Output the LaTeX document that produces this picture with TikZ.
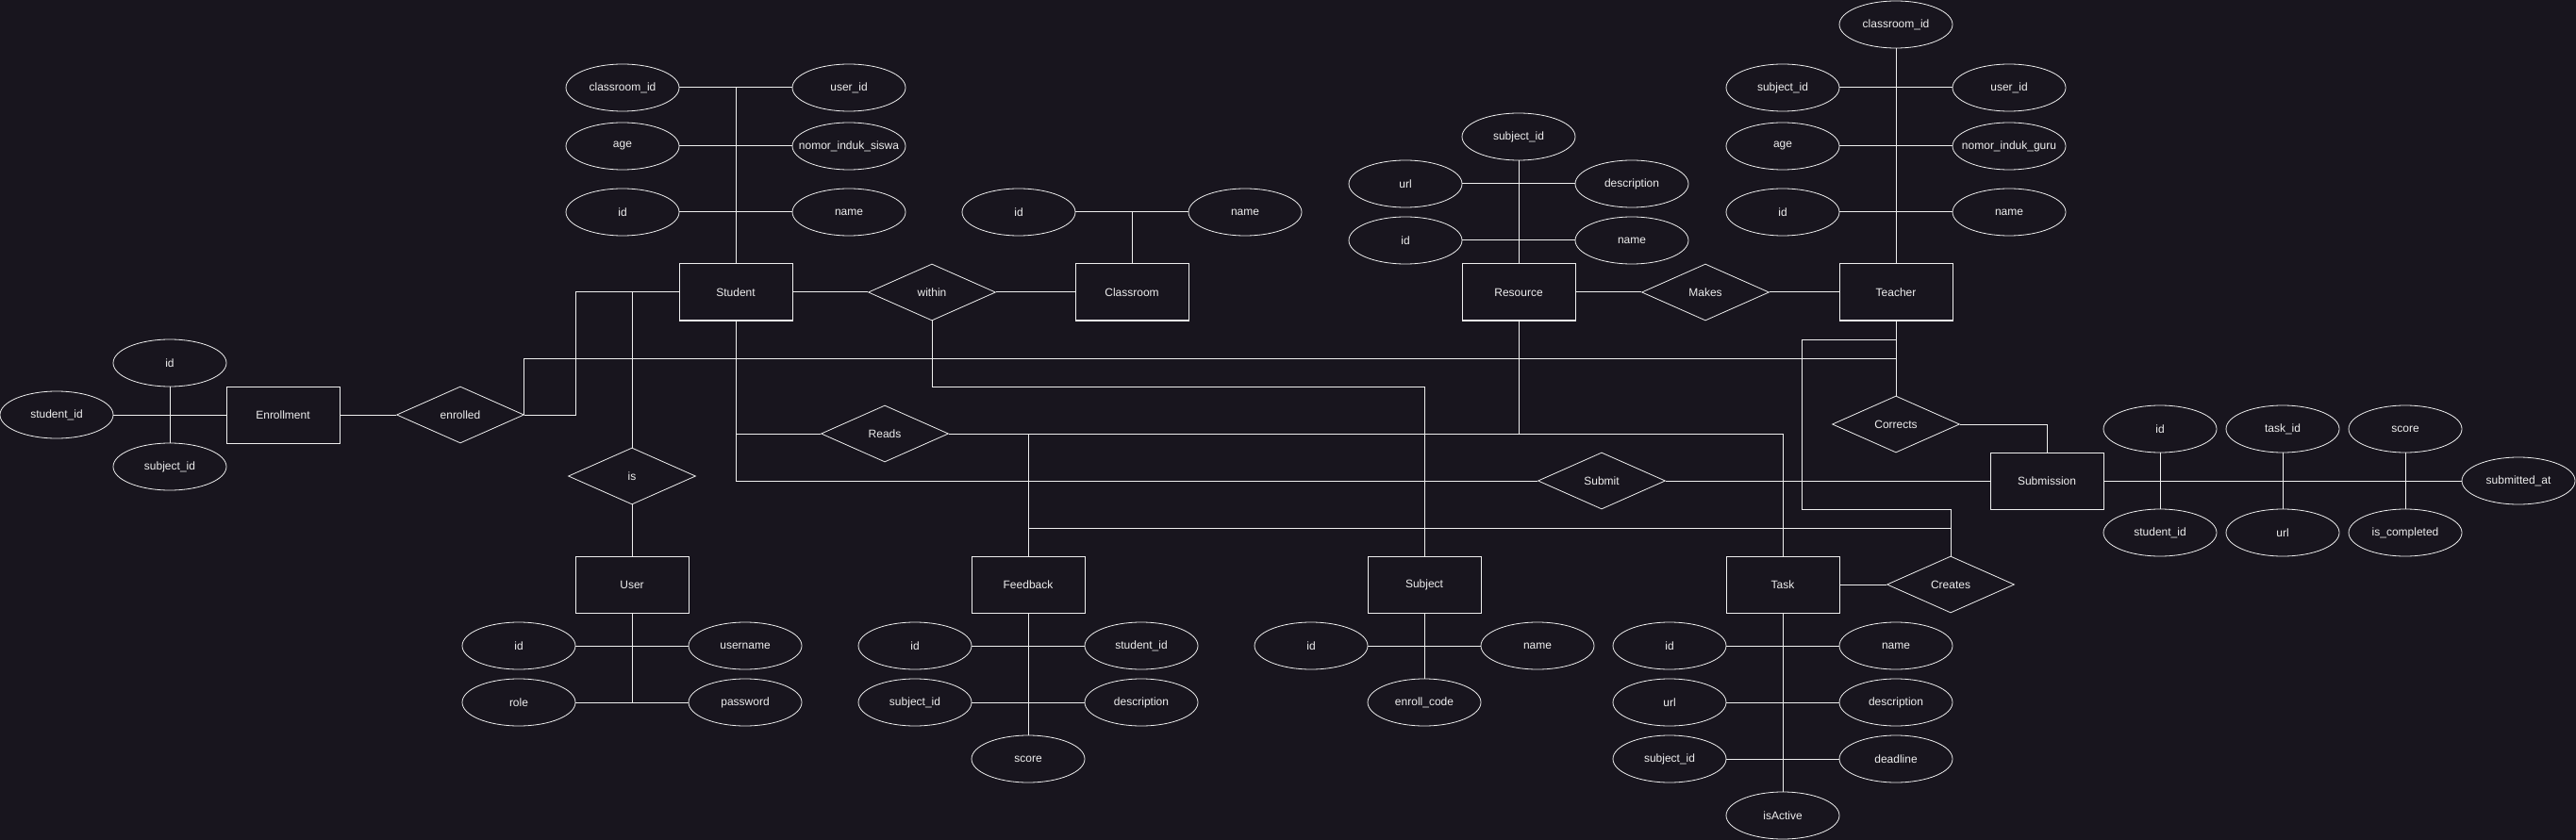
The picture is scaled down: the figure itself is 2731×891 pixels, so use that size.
\documentclass[tikz,border=0pt]{standalone}
\usepackage{fontspec}
\setmainfont{Liberation Sans}
\usetikzlibrary{shapes.geometric}
\definecolor{bg}{HTML}{18151E}
\definecolor{fg}{HTML}{EEEEEE}
\tikzstyle{entity} = [rectangle, minimum width = 90pt, minimum height = 45pt, text centered, draw = fg, fill = bg, text = fg, line width = 0.75pt]
\tikzstyle{attr} = [ellipse, minimum width = 90pt, minimum height = 37.5pt, inner sep = 0pt, text centered, draw = fg, fill = bg, text = fg, line width = 0.6pt]
\tikzstyle{rel} = [diamond, minimum width = 101.25pt, minimum height = 45pt, inner sep = 0pt, text centered, draw = fg, fill = bg, text = fg, line width = 0.6pt]
\tikzstyle{link} = [draw = fg, line width = 0.75pt]

\begin{document}
\begin{tikzpicture}[x = 0.75pt, y = -0.75pt, node distance = 180pt, font = \fontsize{9}{11}\selectfont]
    \useasboundingbox (0,0) rectangle (2731,891);
    \fill[bg] (0,0) rectangle (2731,891);

    % entities
    \node(enrollment)[entity] at (300,440){Enrollment};
    \node(student)[entity] at (780,310){Student};
    \node(classroom)[entity] at (1200,310){Classroom};
    \node(resource)[entity] at (1610,310){Resource};
    \node(teacher)[entity] at (2010,310){Teacher};
    \node(user)[entity] at (670,620){User};
    \node(feedback)[entity] at (1090,620){Feedback};
    \node(subject)[entity] at (1510,620){Subject};
    \node(task)[entity] at (1890,620){Task};
    \node(submission)[entity] at (2170,510){Submission};

    % relations
    \node(enrolled)[rel] at (488,440){enrolled};
    \node(within)[rel] at (988,310){within};
    \node(is)[rel] at (670,505){is};
    \node(reads)[rel] at (938,460){Reads};
    \node(makes)[rel] at (1808,310){Makes};
    \node(corrects)[rel] at (2010,450){Corrects};
    \node(submit)[rel] at (1698,510){Submit};
    \node(creates)[rel] at (2068,620){Creates};

    % attributes
    \node(enrId)[attr] at (180,385){id};
    \node(enrStu)[attr] at (60,440){student\_id};
    \node(enrSub)[attr] at (180,495){subject\_id};

    \node(stuCls)[attr] at (660,93){classroom\_id};
    \node(stuUid)[attr, right of = stuCls]{user\_id};
    \node(stuAge)[attr] at (660,155){age};
    \node(stuNis)[attr, right of = stuAge]{\makebox[0pt]{nomor\_induk\_siswa}};
    \node(stuId)[attr] at (660,225){id};
    \node(stuName)[attr, right of = stuId]{name};

    \node(clsId)[attr] at (1080,225){id};
    \node(clsName)[attr, right of = clsId]{name};

    \node(resSub)[attr] at (1610,145){subject\_id};
    \node(resUrl)[attr] at (1490,195){url};
    \node(resDesc)[attr, right of = resUrl]{description};
    \node(resId)[attr] at (1490,255){id};
    \node(resName)[attr, right of = resId]{name};

    \node(teaCls)[attr] at (2010,26){classroom\_id};
    \node(teaSub)[attr] at (1890,93){subject\_id};
    \node(teaUid)[attr, right of = teaSub]{user\_id};
    \node(teaAge)[attr] at (1890,155){age};
    \node(teaNig)[attr, right of = teaAge]{\makebox[0pt]{nomor\_induk\_guru}};
    \node(teaId)[attr] at (1890,225){id};
    \node(teaName)[attr, right of = teaId]{name};

    \node(usrId)[attr] at (550,685){id};
    \node(usrUname)[attr, right of = usrId]{username};
    \node(usrRole)[attr] at (550,745){role};
    \node(usrPass)[attr, right of = usrRole]{password};

    \node(fbId)[attr] at (970,685){id};
    \node(fbStu)[attr, right of = fbId]{student\_id};
    \node(fbSub)[attr] at (970,745){subject\_id};
    \node(fbDesc)[attr, right of = fbSub]{description};
    \node(fbScore)[attr] at (1090,805){score};

    \node(subId)[attr] at (1390,685){id};
    \node(subName)[attr, right of = subId]{name};
    \node(subCode)[attr] at (1510,745){enroll\_code};

    \node(tskId)[attr] at (1770,685){id};
    \node(tskName)[attr, right of = tskId]{name};
    \node(tskUrl)[attr] at (1770,745){url};
    \node(tskDesc)[attr, right of = tskUrl]{description};
    \node(tskSub)[attr] at (1770,805){subject\_id};
    \node(tskDead)[attr, right of = tskSub]{deadline};
    \node(tskActive)[attr] at (1890,865){isActive};

    \node(smId)[attr] at (2290,455){id};
    \node(smTask)[attr] at (2420,455){task\_id};
    \node(smScore)[attr] at (2550,455){score};
    \node(smAt)[attr] at (2670,510){submitted\_at};
    \node(smStu)[attr] at (2290,565){student\_id};
    \node(smUrl)[attr] at (2420,565){url};
    \node(smDone)[attr] at (2550,565){is\_completed};

    % helper lanes
    \coordinate(laneA) at (0,380);
    \coordinate(laneB) at (0,410);
    \coordinate(laneC) at (0,360);
    \coordinate(laneD) at (0,540);
    \coordinate(laneE) at (0,560);
    \coordinate(colA) at (610,0);
    \coordinate(colB) at (1910,0);

    % attribute links
    \draw[link](enrId) |- (enrollment);
    \draw[link](enrSub) |- (enrollment);
    \draw[link](enrStu) -- (enrollment);
    \foreach \a in {stuCls, stuUid, stuAge, stuNis, stuId, stuName}
        \draw[link](\a) -| (student);
    \foreach \a in {clsId, clsName}
        \draw[link](\a) -| (classroom);
    \draw[link](resSub) -- (resource);
    \foreach \a in {resUrl, resDesc, resId, resName}
        \draw[link](\a) -| (resource);
    \draw[link](teaCls) -- (teacher);
    \foreach \a in {teaSub, teaUid, teaAge, teaNig, teaId, teaName}
        \draw[link](\a) -| (teacher);
    \foreach \a in {usrId, usrUname, usrRole, usrPass}
        \draw[link](\a) -| (user);
    \foreach \a in {fbId, fbStu, fbSub, fbDesc}
        \draw[link](\a) -| (feedback);
    \draw[link](fbScore) -- (feedback);
    \foreach \a in {subId, subName}
        \draw[link](\a) -| (subject);
    \draw[link](subCode) -- (subject);
    \foreach \a in {tskId, tskName, tskUrl, tskDesc, tskSub, tskDead}
        \draw[link](\a) -| (task);
    \draw[link](tskActive) -- (task);
    \foreach \a in {smId, smTask, smScore, smStu, smUrl, smDone}
        \draw[link](\a) |- (submission);
    \draw[link](smAt) -- (submission);

    % relation links
    \draw[link](enrollment) -- (enrolled);
    \draw[link](enrolled.east) -| (colA |- student) -- (student.west);
    \draw[link](enrolled.east) |- (laneA -| teacher) -- (teacher.south);
    \draw[link](student) -- (within);
    \draw[link](within) -- (classroom);
    \draw[link](within.south) |- (laneB -| subject) -- (subject.north);
    \draw[link](student.west) -| (is.north);
    \draw[link](is) -- (user);
    \draw[link](student.south) |- (reads.west);
    \draw[link](student.south) |- (submit.west);
    \draw[link](reads.east) -| (feedback.north);
    \draw[link](reads.east) -| (resource.south);
    \draw[link](reads.east) -| (task.north);
    \draw[link](feedback.north) |- (laneE -| creates) -- (creates.north);
    \draw[link](resource) -- (makes);
    \draw[link](makes) -- (teacher);
    \draw[link](teacher) -- (corrects);
    \draw[link](teacher.south) |- (laneC -| colB) |- (laneD -| creates) -- (creates.north);
    \draw[link](corrects.east) -| (submission.north);
    \draw[link](submit) -- (submission);
    \draw[link](task) -- (creates);
\end{tikzpicture}
\end{document}
